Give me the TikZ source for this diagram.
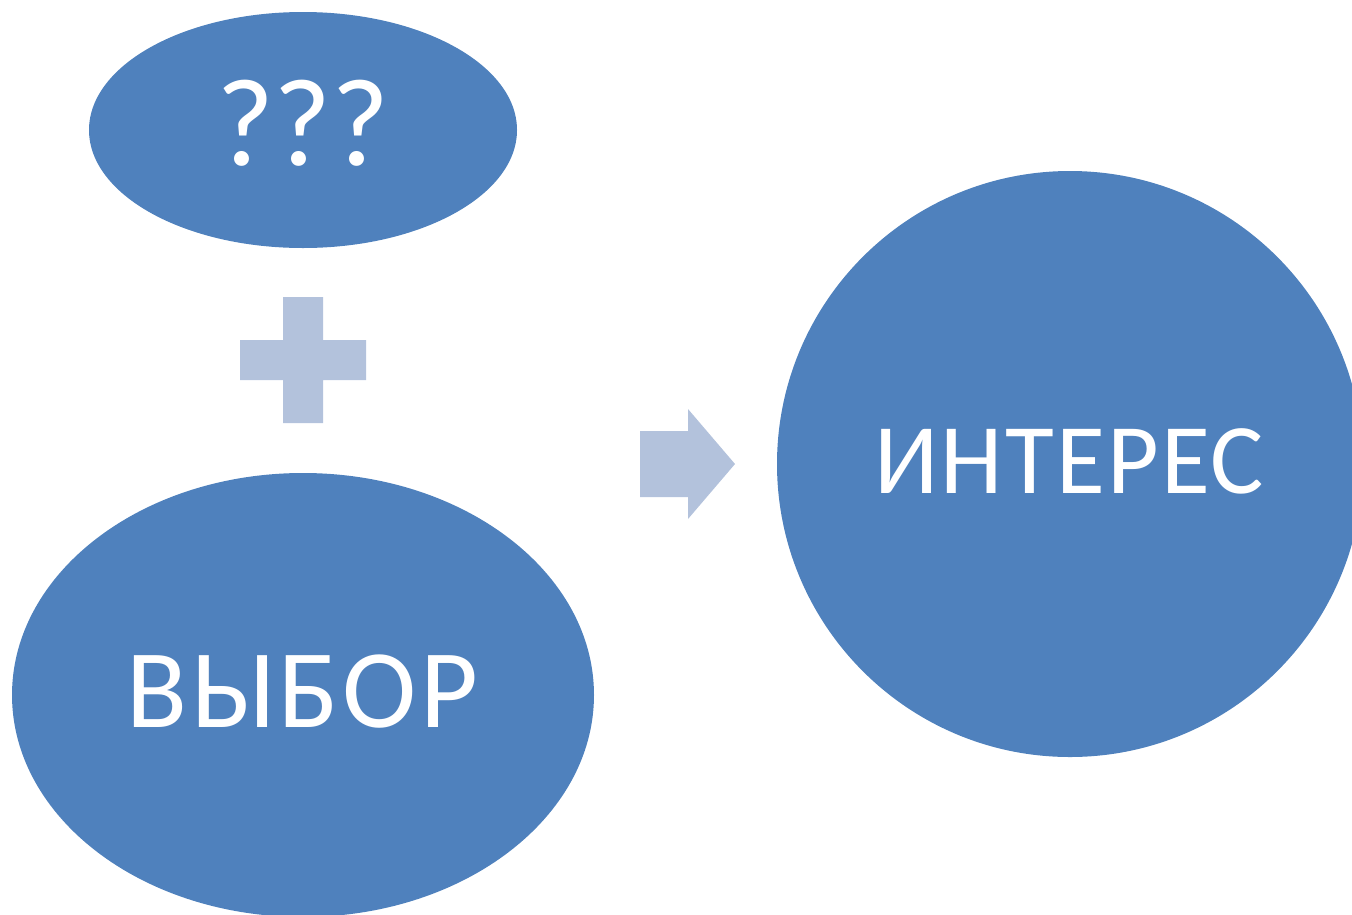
\documentclass[tikz,border=0pt]{standalone}
\usepackage{fontspec}
\setmainfont{Carlito}
\definecolor{shapeblue}{HTML}{4F81BD}
\definecolor{lightblue}{HTML}{B3C2DC}
\tikzset{
  blob/.style={fill=shapeblue, draw=none},
  sign/.style={fill=lightblue, draw=none},
  label/.style={text=white, anchor=base, inner sep=0pt},
}
\begin{document}
\begin{tikzpicture}[x=1pt,y=-1pt]
\useasboundingbox (0,0) rectangle (1352,914);
\clip (0,0) rectangle (1352,914);
% shapes
\fill[blob] (303,130) ellipse [x radius=214, y radius=118];
\fill[blob] (303,695) ellipse [x radius=291, y radius=222];
\fill[blob] (1070,464) circle [radius=293];
% plus
\fill[sign] (283,297) -- (323,297) -- (323,340) -- (366,340) -- (366,380) -- (323,380)
  -- (323,423) -- (283,423) -- (283,380) -- (240,380) -- (240,340) -- (283,340) -- cycle;
% arrow
\fill[sign] (640,431) -- (688,431) -- (688,409) -- (735,464) -- (688,519) -- (688,497) -- (640,497) -- cycle;
% labels
\node[label, font=\fontsize{125}{125}\selectfont] (q) at (303,165) {???};
\node[label, font=\fontsize{112}{112}\selectfont\addfontfeature{LetterSpace=3}] (vybor) at (302,727) {ВЫБОР};
\node[label, font=\fontsize{100}{100}\selectfont\addfontfeature{LetterSpace=2.3}] (interes) at (1069,493) {ИНТЕРЕС};
\end{tikzpicture}
\end{document}
